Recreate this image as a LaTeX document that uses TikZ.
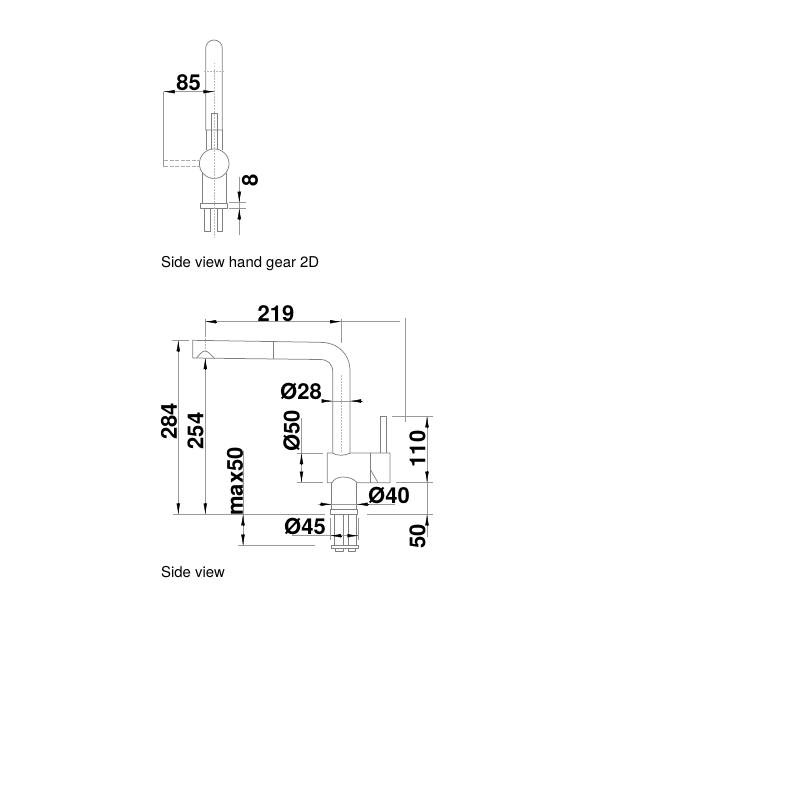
\documentclass[tikz,border=0pt]{standalone}
\usepackage{fontspec}
\setmainfont{TeX Gyre Heros}
\usetikzlibrary{arrows.meta}
\definecolor{lin}{gray}{0.5}
\definecolor{dimc}{gray}{0.6}
\tikzset{
  x=1pt,y=-1pt,
  part/.style={draw=lin,line width=0.75pt,line join=round},
  dimln/.style={draw=dimc,line width=0.7pt},
  ctr/.style={draw=dimc!70,line width=0.6pt,dash pattern=on 1.5pt off 1.5pt},
  ghost/.style={draw=dimc!80,line width=0.7pt,dash pattern=on 4pt off 1.5pt},
  arr/.style={draw=black,line width=0.4pt,-{Latex[length=11pt,width=3.6pt]}},
  lab/.style={font=\fontsize{22}{24}\selectfont\bfseries,text=black,inner sep=0pt},
  captext/.style={font=\fontsize{14.9}{17}\selectfont,text=black,inner sep=0pt,anchor=west}
}
\begin{document}
\begin{tikzpicture}
\useasboundingbox (0,0) rectangle (800,800);
% --- upper view
\draw[part] (205.7,130) -- (205.7,48.3) arc[start angle=180,end angle=360,radius=8.3] -- (222.3,130) -- cycle;
\draw[part] (206,130) -- (206,150) (222.3,130) -- (222.3,150);
\draw[part] (211.3,150) -- (211.3,113) -- (217.5,113) -- (217.5,150);
\draw[part,fill=white] (214.2,163.7) circle[radius=14.8];
\draw[part] (202.5,173) -- (202.5,203) (226,173) -- (226,203);
\draw[part] (200.7,203) rectangle (227.3,208.3);
\draw[part] (204.7,208.3) rectangle (210,231.7);
\draw[part] (217.3,208.3) rectangle (222.7,231.7);
\draw[ctr] (214.3,63) -- (214.3,238);
\draw[ctr] (204,71) -- (224,71);
\draw[ghost] (164,160.7) -- (200,160.7) (164,166.7) -- (200,166.7);
\draw[dimln] (163.7,91.7) -- (163.7,166.7);
\draw[dimln] (164,91.7) -- (214.3,91.7);
\coordinate (a85l) at (174,91.7); \coordinate (a85lt) at (163.7,91.7);
\coordinate (a85r) at (204,91.7); \coordinate (a85rt) at (214.3,91.7);
\draw[arr] (a85l) -- (a85lt);
\draw[arr] (a85r) -- (a85rt);
\node[lab] (t85) at (188.5,83) {85};
\draw[dimln] (229,202.7) -- (246,202.7) (229,208.3) -- (246,208.3);
\draw[dimln] (239.3,176.7) -- (239.3,235);
\coordinate (a8ta) at (239.3,191.7); \coordinate (a8t) at (239.3,202.7);
\coordinate (a8ba) at (239.3,219.3); \coordinate (a8b) at (239.3,208.3);
\draw[arr] (a8ta) -- (a8t);
\draw[arr] (a8ba) -- (a8b);
\node[lab,rotate=90] (t8) at (250,180) {8};
\node[captext] (c1) at (161,264) {Side view hand gear 2D};
% --- side view: spout
\draw[part] (320,342.3) -- (192.7,340.3) -- (192.7,358) -- (320,359.5);
\draw[part] (320,342.3) .. controls (338,342.3) and (350,354) .. (350,371) -- (350,453);
\draw[part] (320,359.5) .. controls (328,359.5) and (332.7,364) .. (332.7,371.7) -- (332.7,453);
\draw[part] (273.3,341.3) -- (273.3,359);
\draw[part] (196.7,358) .. controls (199,355) and (202,351) .. (205,351) .. controls (208,351) and (211,355) .. (214,358);
\draw[ctr] (341,375) -- (341,453);
% body
\draw[part] (332.7,453) -- (327.3,453) -- (327.3,482.7) -- (332,482.7) .. controls (334,479) and (338,477) .. (343,477) .. controls (349,477) and (354,479) .. (357,482.7) -- (390,482.7) -- (390,453) -- (350,453);
\draw[part] (332.7,453) .. controls (336,456) and (346,456) .. (350,453);
\draw[part] (370.7,453) -- (370.7,482.7);
\draw[part] (370.7,470) -- (378,482.7);
\draw[part] (380,453) -- (380,416.3) -- (386.7,416.3) -- (386.7,453);
% base
\draw[part] (331.7,482.7) -- (331.7,509.3) (356.7,482.7) -- (356.7,509.3);
\draw[part] (330.7,509.3) rectangle (357.7,514.3);
\draw[part] (334.3,514.3) -- (334.3,545.5) (343.3,514.3) -- (343.3,545.5) (348.3,514.3) -- (348.3,545.5) (356,514.3) -- (356,545.5);
\draw[part] (331,545.5) rectangle (358.5,548.3);
\draw[part] (335,548.3) rectangle (343.3,551.7);
\draw[part] (348,548.3) rectangle (355,551.7);
% dim 219
\draw[ctr] (205.2,338) -- (205.2,351);
\draw[dimln] (205.2,319.3) -- (205.2,337);
\draw[dimln] (341,319) -- (341,343.3);
\draw[dimln] (205.2,321.7) -- (400,321.7);
\draw[dimln] (405.3,318) -- (405.3,421.7);
\draw[dimln] (391.7,416.3) -- (432.7,416.3);
\coordinate (a219l) at (216.5,321.7); \coordinate (a219lt) at (205.2,321.7);
\coordinate (a219r) at (330,321.7); \coordinate (a219rt) at (341,321.7);
\draw[arr] (a219l) -- (a219lt);
\draw[arr] (a219r) -- (a219rt);
\node[lab] (t219) at (276,314) {219};
% dim 284, 254
\draw[dimln] (172,340.3) -- (189,340.3);
\draw[dimln] (173,514.3) -- (325,514.3);
\draw[dimln] (178.3,340.3) -- (178.3,514.3);
\draw[dimln] (205.3,358) -- (205.3,514.3);
\coordinate (a284t) at (178.3,340.3); \coordinate (a284ta) at (178.3,351.5);
\coordinate (a284b) at (178.3,514.3); \coordinate (a284ba) at (178.3,503);
\coordinate (a254t) at (205.3,358); \coordinate (a254ta) at (205.3,369.5);
\coordinate (a254b) at (205.3,514.3); \coordinate (a254ba) at (205.3,503);
\draw[arr] (a284ta) -- (a284t);
\draw[arr] (a284ba) -- (a284b);
\draw[arr] (a254ta) -- (a254t);
\draw[arr] (a254ba) -- (a254b);
\node[lab,rotate=90] (t284) at (169,421.5) {284};
\node[lab,rotate=90] (t254) at (195.5,431) {254};
% max50
\draw[dimln] (243,450.7) -- (243,545.7);
\draw[dimln] (238,545.7) -- (315,545.7);
\coordinate (amt) at (243,514.3); \coordinate (amta) at (243,525.5);
\coordinate (amb) at (243,545.7); \coordinate (amba) at (243,533.5);
\draw[arr] (amta) -- (amt);
\draw[arr] (amba) -- (amb);
\node[lab,rotate=90] (tmax) at (235,481.5) {max50};
% dim 28
\draw[dimln] (322,401) -- (362.7,401);
\coordinate (a28l) at (322,401); \coordinate (a28lt) at (332.7,401);
\coordinate (a28r) at (361,401); \coordinate (a28rt) at (350,401);
\draw[arr] (a28l) -- (a28lt);
\draw[arr] (a28r) -- (a28rt);
\node[lab] (t28) at (301,391.5) {Ø28};
% dim 50 diameter
\draw[dimln] (296.7,453) -- (323,453) (296.7,482.7) -- (323,482.7);
\draw[dimln] (301.5,418) -- (301.5,482.7);
\coordinate (a50t) at (301.5,453); \coordinate (a50ta) at (301.5,464);
\coordinate (a50b) at (301.5,482.7); \coordinate (a50ba) at (301.5,471.5);
\draw[arr] (a50ta) -- (a50t);
\draw[arr] (a50ba) -- (a50b);
\node[lab,rotate=90] (t50d) at (291.5,431) {Ø50};
% dim 40
\draw[dimln] (318,504.3) -- (395,504.3);
\coordinate (a40l) at (320,504.3); \coordinate (a40lt) at (331.7,504.3);
\coordinate (a40r) at (368,504.3); \coordinate (a40rt) at (356.7,504.3);
\draw[arr] (a40l) -- (a40lt);
\draw[arr] (a40r) -- (a40rt);
\node[lab] (t40) at (389,495.5) {Ø40};
% dim 45
\draw[dimln] (292,535.7) -- (358.3,535.7);
\draw[dimln] (330,518) -- (330,540) (358.3,518) -- (358.3,540);
\coordinate (a45l) at (341,535.7); \coordinate (a45lt) at (330,535.7);
\coordinate (a45r) at (347.7,535.7); \coordinate (a45rt) at (358.3,535.7);
\draw[arr] (a45l) -- (a45lt);
\draw[arr] (a45r) -- (a45rt);
\node[lab] (t45) at (305,526.5) {Ø45};
% right dims
\draw[dimln] (395.7,482.7) -- (432.7,482.7);
\draw[dimln] (367,514.3) -- (432.7,514.3);
\draw[dimln] (427,416.3) -- (427,537);
\coordinate (a110t) at (427,416.3); \coordinate (a110ta) at (427,428);
\coordinate (a110b) at (427,482.7); \coordinate (a110ba) at (427,471);
\coordinate (a50rt) at (427,514.3); \coordinate (a50ra) at (427,526);
\draw[arr] (a110ta) -- (a110t);
\draw[arr] (a110ba) -- (a110b);
\draw[arr] (a50ra) -- (a50rt);
\node[lab,rotate=90] (t110) at (417.5,449) {110};
\node[lab,rotate=90] (t50r) at (417.5,536.5) {50};
\node[captext] (c2) at (161,572) {Side view};
\end{tikzpicture}
\end{document}
